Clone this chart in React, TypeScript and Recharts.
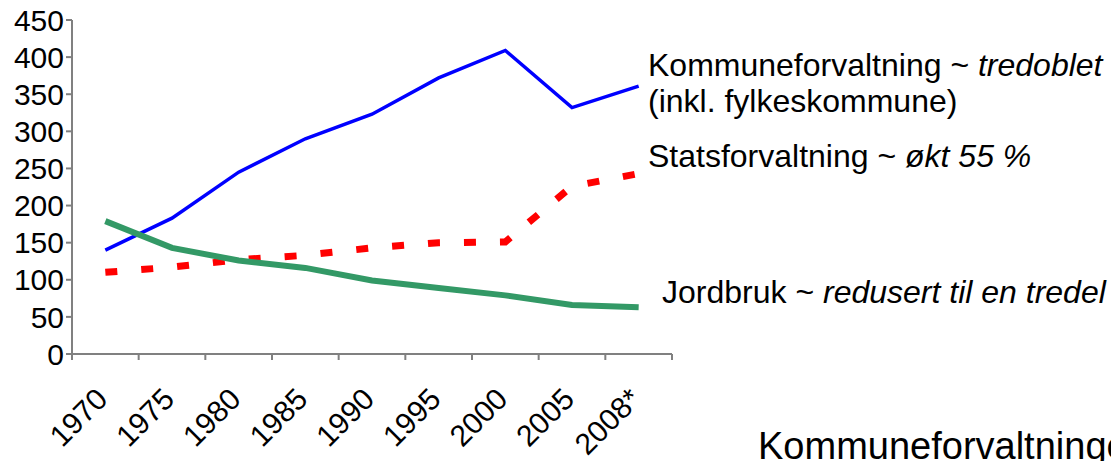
import React from 'react';
import { LineChart, Line, XAxis, YAxis } from 'recharts';

const years = ['1970', '1975', '1980', '1985', '1990', '1995', '2000', '2005', '2008*'];
const kommune = [140, 183, 245, 290, 323, 372, 409, 332, 361];
const stat = [110, 117, 127, 133, 143, 150, 151, 226, 243];
const jordbruk = [179, 143, 126, 116, 99, 89, 79, 66, 63];
const yTicks = [0, 50, 100, 150, 200, 250, 300, 350, 400, 450];
const boundaryTicks = [-0.5, 0.5, 1.5, 2.5, 3.5, 4.5, 5.5, 6.5, 7.5, 8.5];
const labelTicks = years.map((_, i) => i);

const data = years.map((year, i) => ({
  year,
  idx: i,
  kommune: kommune[i],
  stat: stat[i],
  jordbruk: jordbruk[i],
}));

const FONT = '"Liberation Sans", Arial, Helvetica, sans-serif';
const AXIS = '#808080';

const XTick = (props: any) => {
  const { x, y, payload } = props;
  return (
    <text
      x={0}
      y={0}
      transform={`translate(${x + 4},${y + 38}) rotate(-45)`}
      textAnchor="end"
      fontSize={30}
      fill="#000"
      fontFamily={FONT}
    >
      {years[payload.value]}
    </text>
  );
};

const EmptyTick = () => <g />;

export default function App() {
  return (
    <div
      style={{
        position: 'absolute',
        left: 0,
        top: 0,
        width: 1111,
        height: 461,
        overflow: 'hidden',
        background: '#fff',
        fontFamily: FONT,
      }}
    >
      <LineChart
        width={1111}
        height={461}
        data={data}
        margin={{ top: 20, right: 439, left: 0, bottom: 0 }}
      >
        <YAxis
          width={72}
          domain={[0, 450]}
          ticks={yTicks}
          interval={0}
          axisLine={{ stroke: AXIS, strokeWidth: 2 }}
          tickLine={{ stroke: AXIS, strokeWidth: 2 }}
          tickSize={6}
          tick={{ fontSize: 30, fill: '#000', fontFamily: FONT }}
        />
        <XAxis
          xAxisId="grid"
          dataKey="idx"
          type="number"
          domain={[-0.5, 8.5]}
          allowDataOverflow
          ticks={boundaryTicks}
          interval={0}
          height={1}
          tick={<EmptyTick />}
          tickSize={6}
          axisLine={{ stroke: AXIS, strokeWidth: 2 }}
          tickLine={{ stroke: AXIS, strokeWidth: 2 }}
        />
        <XAxis
          xAxisId="labels"
          dataKey="idx"
          type="number"
          domain={[-0.5, 8.5]}
          allowDataOverflow
          ticks={labelTicks}
          interval={0}
          height={106}
          axisLine={false}
          tickLine={false}
          tick={<XTick />}
        />
        <Line
          xAxisId="grid"
          dataKey="kommune"
          stroke="#0000FF"
          strokeWidth={3.5}
          dot={false}
          isAnimationActive={false}
        />
        <Line
          xAxisId="grid"
          dataKey="stat"
          stroke="#FF0000"
          strokeWidth={7}
          strokeDasharray="12 24"
          dot={false}
          isAnimationActive={false}
        />
        <Line
          xAxisId="grid"
          dataKey="jordbruk"
          stroke="#339966"
          strokeWidth={6}
          dot={false}
          isAnimationActive={false}
        />
      </LineChart>
      <svg
        width={1111}
        height={461}
        style={{ position: 'absolute', left: 0, top: 0, pointerEvents: 'none' }}
        fontFamily={FONT}
        fontSize={32}
        fill="#000"
      >
        <text x={648} y={76}>
          Kommuneforvaltning ~ <tspan fontStyle="italic">tredoblet</tspan>
        </text>
        <text x={648} y={112}>(inkl. fylkeskommune)</text>
        <text x={648} y={167}>
          Statsforvaltning ~ <tspan fontStyle="italic">økt 55 %</tspan>
        </text>
        <text x={662} y={303}>
          Jordbruk ~ <tspan fontStyle="italic">redusert til en tredel</tspan>
        </text>
        <text x={758} y={459} fontSize={38}>
          Kommuneforvaltningen
        </text>
      </svg>
    </div>
  );
}
